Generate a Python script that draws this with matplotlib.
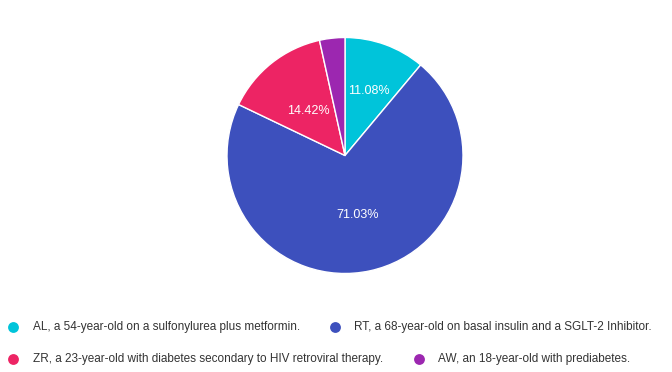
import matplotlib
matplotlib.use("Agg")
import matplotlib.pyplot as plt
from matplotlib.lines import Line2D
import numpy as np

labels = ["AL, a 54-year-old on a sulfonylurea plus metformin.",
          "RT, a 68-year-old on basal insulin and a SGLT-2 Inhibitor.",
          "ZR, a 23-year-old with diabetes secondary to HIV retroviral therapy.",
          "AW, an 18-year-old with prediabetes."]
values = [11.08, 71.03, 14.42, 3.47]
colors = ["#00C4DA", "#3D50BD", "#ED2464", "#9C27B0"]

W, H = 672, 372
fig = plt.figure(figsize=(W / 100, H / 100), dpi=100)
fig.patch.set_facecolor("white")

cx, cy, r = 345, 155.5, 118
ax = fig.add_axes([(cx - r) / W, (H - cy - r) / H, 2 * r / W, 2 * r / H])
wedges, _ = ax.pie(values, colors=colors, startangle=90, counterclock=False,
                   radius=1, wedgeprops=dict(edgecolor="white", linewidth=1))
ax.set_xlim(-1, 1)
ax.set_ylim(-1, 1)
ax.set_aspect("auto")
ax.axis("off")

# percentage labels
total = sum(values)
start = 90.0
label_dist = [0.6, 0.5, 0.5, None]
for v, d in zip(values, label_dist):
    mid = start - v / total * 360 / 2
    start -= v / total * 360
    if d is None:
        continue
    ang = np.deg2rad(mid)
    ax.text(d * np.cos(ang), d * np.sin(ang) - 0.015, f"{v:.2f}%", color="white",
            ha="center", va="center", fontsize=9, family="Liberation Sans")

# legend
pos = [(13, 33, 327), (335, 354, 327), (13, 33, 359), (419, 438, 359)]
for (mx, tx, y), lab, c in zip(pos, labels, colors):
    fig.add_artist(Line2D([mx / W], [1 - y / H], marker="o", markersize=7.8,
                          color=c, markeredgewidth=0, transform=fig.transFigure))
    fig.text(tx / W, 1 - y / H, lab, ha="left", va="center", fontsize=8.5,
             color="#333333", family="Liberation Sans")

fig.savefig("out.png", dpi=100, facecolor="white")
